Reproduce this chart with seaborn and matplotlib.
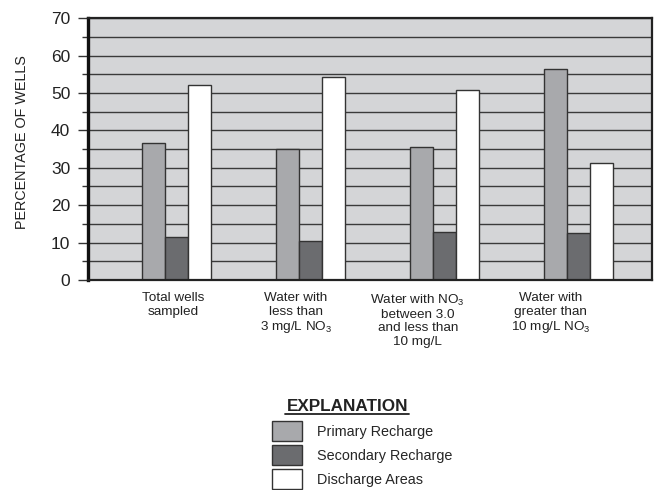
import numpy as np
import pandas as pd
import matplotlib
matplotlib.use('Agg')
import matplotlib.pyplot as plt
from matplotlib.lines import Line2D
import seaborn as sns

# data
categories = [
    'Total wells\nsampled',
    'Water with\nless than\n3 mg/L NO$_3$',
    'Water with NO$_3$\nbetween 3.0\nand less than\n10 mg/L',
    'Water with\ngreater than\n10 mg/L NO$_3$',
]
series = ['Primary Recharge', 'Secondary Recharge', 'Discharge Areas']
primary = [36.5, 35.1, 35.6, 56.3]
secondary = [11.6, 10.3, 12.9, 12.5]
discharge = [52.0, 54.3, 50.8, 31.4]
colors = ['#a8a9ac', '#6b6c6f', '#ffffff']

df = pd.DataFrame({
    'category': categories * 3,
    'series': np.repeat(series, len(categories)),
    'value': primary + secondary + discharge,
})

sns.set_theme(style='white')
plt.rcParams['font.family'] = ['Liberation Sans', 'DejaVu Sans']
plt.rcParams['mathtext.fontset'] = 'custom'
plt.rcParams['mathtext.rm'] = 'Liberation Sans'
plt.rcParams['mathtext.it'] = 'Liberation Sans:italic'
plt.rcParams['mathtext.bf'] = 'Liberation Sans:bold'

fig = plt.figure(figsize=(6.59, 4.9), dpi=100)
ax = fig.add_axes([0.1335, 0.4286, 0.989 - 0.1335, 0.963 - 0.4286])
ax.set_facecolor('#d4d5d7')

sns.barplot(data=df, x='category', y='value', hue='series', order=categories,
            hue_order=series, palette=colors, width=0.515, saturation=1,
            edgecolor='#333333', linewidth=1.0, legend=True, ax=ax)

ax.set_xlim(-0.660, 3.549)
ax.set_ylim(0, 70)
ax.set_yticks(np.arange(0, 71, 10))
ax.set_yticks(np.arange(5, 70, 10), minor=True)
ax.yaxis.grid(True, which='both', color='#3a3a3a', linewidth=1.0)
ax.set_axisbelow(True)

# category labels sit a little left of their bar groups in the original
ax.set_xticks(np.arange(len(categories)) - np.array([0.026, 0.108, 0.198, 0.205]))
ax.set_xticklabels(categories)

ax.tick_params(axis='y', which='major', length=7.2, width=1, color='#333333',
               pad=5.5, labelsize=12.5, left=True, labelcolor='#222222')
ax.tick_params(axis='y', which='minor', length=4.3, width=1, color='#333333', left=True)
ax.tick_params(axis='x', length=0, pad=9, labelsize=9.7, labelcolor='#222222')
for lab in ax.get_xticklabels():
    lab.set_linespacing(1.15)
    lab.set_verticalalignment('top')

ax.set_xlabel('')
ax.set_ylabel('PERCENTAGE OF WELLS', fontsize=10.4, color='#222222')
ax.yaxis.set_label_coords(-0.105, 0.525)

for side in ['top', 'right', 'bottom']:
    ax.spines[side].set_color('#222222')
    ax.spines[side].set_linewidth(1.6)
ax.spines['left'].set_color('#111111')
ax.spines['left'].set_linewidth(2.4)

handles, labels = ax.get_legend_handles_labels()
ax.get_legend().remove()
fig.legend(handles, labels, loc='upper left', bbox_to_anchor=(0.413, 0.141),
           frameon=False, fontsize=10.4, handlelength=2.08, handleheight=1.75,
           labelspacing=0.28, handletextpad=1.0, borderpad=0, borderaxespad=0)

fig.text(0.527, 0.161, 'EXPLANATION', ha='center', va='baseline',
         fontsize=12.3, fontweight='bold', color='#222222')
fig.add_artist(Line2D([0.433, 0.621], [0.156, 0.156], color='#222222', linewidth=1.3))

fig.savefig('out.png', dpi=100)
